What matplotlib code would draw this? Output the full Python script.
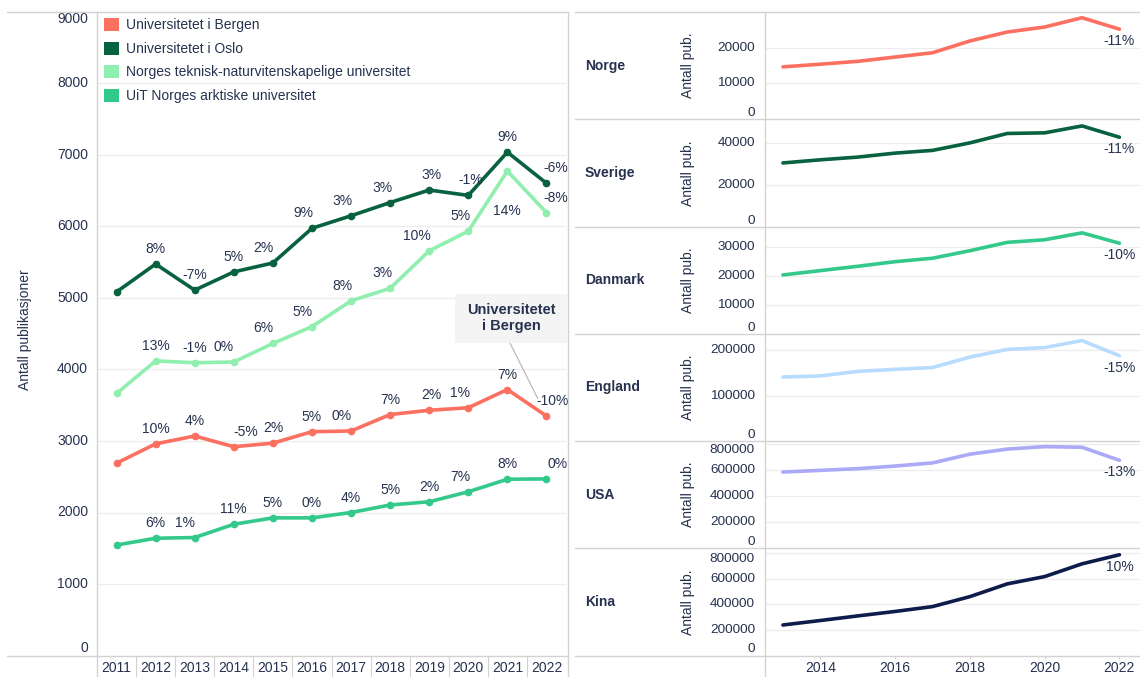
import matplotlib.pyplot as plt
from matplotlib.lines import Line2D
from matplotlib.patches import Patch, Rectangle

plt.rcParams['font.family'] = ['Liberation Sans', 'DejaVu Sans']

W, H = 1140, 677
TXT = '#26324f'
GRID = '#ededed'
RULE = '#d2d2d2'


def fx(px):
    return px / W


def fy(py):
    return 1 - py / H


# ---- left chart: universities ----
years = list(range(2011, 2023))
uib = [2690, 2960, 3070, 2920, 2970, 3130, 3140, 3370, 3430, 3465, 3720, 3350]
uio = [5085, 5475, 5110, 5365, 5490, 5975, 6150, 6335, 6510, 6435, 7040, 6605]
ntnu = [3665, 4120, 4095, 4105, 4365, 4600, 4960, 5135, 5660, 5935, 6775, 6195]
uit = [1545, 1640, 1650, 1835, 1925, 1925, 2000, 2105, 2150, 2290, 2465, 2470]

uib_pct = ['', '10%', '4%', '-5%', '2%', '5%', '0%', '7%', '2%', '1%', '7%', '-10%']
uio_pct = ['', '8%', '-7%', '5%', '2%', '9%', '3%', '3%', '3%', '-1%', '9%', '-6%']
ntnu_pct = ['', '13%', '-1%', '0%', '6%', '5%', '8%', '3%', '10%', '5%', '14%', '-8%']
uit_pct = ['', '6%', '1%', '11%', '5%', '0%', '4%', '5%', '2%', '7%', '8%', '0%']

names = ['Universitetet i Bergen', 'Universitetet i Oslo',
         'Norges teknisk-naturvitenskapelige universitet', 'UiT Norges arktiske universitet']
colors = ['#fb7060', '#08623f', '#90eeae', '#33c98a']

# label nudges in pixels (dx, dy)
uib_nudge = [(0, 15)] * 3 + [(12, 15), (0, 15), (0, 15), (-9, 15), (0, 15), (2, 15), (-8, 15), (0, 15), (6, 15)]
uio_nudge = [(0, 15)] * 4 + [(-10, 15), (-9, 15), (-9, 15), (-8, 15), (2, 15), (2, 15), (0, 15), (9, 15)]
ntnu_nudge = [(0, 15)] * 3 + [(-10, 15), (-10, 15), (-9, 15), (-9, 15), (-8, 15), (-12, 15), (-8, 15), (0, -40), (9, 15)]
uit_nudge = [(0, 15)] * 2 + [(-10, 15)] + [(0, 15)] * 6 + [(-8, 15), (0, 15), (11, 15)]

fig = plt.figure(figsize=(W / 100, H / 100), dpi=100)

ax = fig.add_axes([fx(97), fy(655.5), (566 - 97) / W, (655.5 - 12) / H])
ax.set_xlim(-0.5, 11.5)
ax.set_ylim(0, 9000)
for s in ax.spines.values():
    s.set_visible(False)

for v in range(1000, 9001, 1000):
    ax.axhline(v, color=GRID, lw=0.9, zorder=0)
ax.set_yticks([])
for v in range(0, 9001, 1000):
    va = 'center'
    if v == 9000:
        va = 'top'
    elif v == 0:
        va = 'bottom'
    ax.text(-9 / 469, v, str(v), transform=ax.get_yaxis_transform(),
            ha='right', va=va, fontsize=10, color=TXT)

series = [(uib, uib_pct, uib_nudge), (uio, uio_pct, uio_nudge),
          (ntnu, ntnu_pct, ntnu_nudge), (uit, uit_pct, uit_nudge)]
xs = list(range(len(years)))
for (vals, pcts, nudge), col in zip(series, colors):
    ax.plot(xs, vals, color=col, lw=2.6, marker='o', ms=4.5,
            solid_capstyle='round', zorder=3)
    for i, (v, p) in enumerate(zip(vals, pcts)):
        if p:
            ax.annotate(p, (i, v), xytext=nudge[i], textcoords='offset pixels',
                        ha='center', va='center', fontsize=10, color=TXT, zorder=4)

ax.set_xticks(xs, labels=[str(y) for y in years])
ax.set_xticks([i + 0.5 for i in range(len(years) - 1)], minor=True)
ax.tick_params(axis='x', which='major', length=0, pad=4, labelsize=10, labelcolor=TXT)
ax.tick_params(axis='x', which='minor', length=16, width=0.8, color=RULE, direction='out')

handles = [Patch(facecolor=c, edgecolor='none', label=n) for n, c in zip(names, colors)]
ax.legend(handles=handles, loc='upper left', bbox_to_anchor=(fx(104), fy(18)),
          bbox_transform=fig.transFigure, frameon=False, fontsize=10,
          handlelength=1.05, handleheight=1.05, handletextpad=0.55,
          labelspacing=0.68, borderaxespad=0, borderpad=0, labelcolor=TXT)

fig.text(fx(25), fy(330), 'Antall publikasjoner', rotation=90,
         ha='center', va='center', fontsize=10, color=TXT)

# callout box for Bergen
fig.add_artist(Rectangle((fx(455), fy(343)), (567 - 455) / W, (343 - 294) / H,
                         transform=fig.transFigure, facecolor='#f4f4f4',
                         edgecolor='none', zorder=5))
fig.text(fx(511), fy(318), 'Universitetet\ni Bergen', ha='center', va='center',
         fontsize=10.5, fontweight='bold', color=TXT, linespacing=1.15, zorder=6)
ax.annotate('', xy=(11, uib[11]), xytext=(fx(510), fy(343)),
            textcoords='figure fraction',
            arrowprops=dict(arrowstyle='-', color='#b5b5b5', lw=0.8,
                            shrinkA=0, shrinkB=14))

for x0, y0, x1, y1 in [(7, 12, 568, 12), (7, 655.5, 568, 655.5),
                       (97, 12, 97, 677), (568, 12, 568, 677)]:
    fig.add_artist(Line2D([fx(x0), fx(x1)], [fy(y0), fy(y1)], color=RULE, lw=1.0))

# ---- right panels: countries ----
country_years = list(range(2013, 2023))
countries = ['Norge', 'Sverige', 'Danmark', 'England', 'USA', 'Kina']
norge = [14650, 15400, 16200, 17400, 18600, 21900, 24400, 25800, 28400, 25200]
sverige = [30400, 31900, 33200, 35100, 36400, 40000, 44500, 44800, 48100, 42700]
danmark = [20400, 21900, 23400, 25000, 26200, 28800, 31700, 32600, 35000, 31400]
england = [141000, 143500, 153500, 158000, 162000, 185000, 202000, 206000, 221500, 188000]
usa = [584000, 597000, 610000, 630000, 654000, 721000, 760000, 779000, 774000, 674000]
kina = [239000, 274000, 310000, 345000, 383000, 461000, 561000, 618000, 718000, 789000]
country_change = ['-11%', '-11%', '-10%', '-15%', '-13%', '10%']
country_colors = ['#fb7060', '#08623f', '#33c98a', '#b8dcfd', '#aaaaf6', '#0e1c4c']
country_ticks = [[0, 10000, 20000], [0, 20000, 40000], [0, 10000, 20000, 30000],
                 [0, 100000, 200000], [0, 200000, 400000, 600000, 800000],
                 [0, 200000, 400000, 600000, 800000]]
country_ymax = [30000, 51300, 37200, 236500, 822000, 840000]
country_vals = [norge, sverige, danmark, england, usa, kina]

row_h = (655.5 - 12) / 6
px_left, px_right = 765, 1140
for r, (name, vals, col, ticks, ymax, pct) in enumerate(
        zip(countries, country_vals, country_colors, country_ticks, country_ymax, country_change)):
    top = 12 + r * row_h
    bot = top + row_h
    cy = (top + bot) / 2
    axr = fig.add_axes([fx(px_left), fy(bot), (px_right - px_left) / W, row_h / H])
    axr.set_xlim(2012.52, 2022.55)
    axr.set_ylim(0, ymax)
    for s in axr.spines.values():
        s.set_visible(False)
    axr.set_yticks([])
    for t in ticks:
        if t > 0:
            axr.axhline(t, color=GRID, lw=0.9, zorder=0)
        dist_top = (ymax - t) / ymax * row_h
        va = 'center'
        if t == 0:
            va = 'bottom'
        elif dist_top < 6:
            va = 'top'
        axr.text(-10 / (px_right - px_left), t, str(t), transform=axr.get_yaxis_transform(),
                 ha='right', va=va, fontsize=9.7, color=TXT)
    axr.plot(country_years, vals, color=col, lw=2.6, solid_capstyle='round', zorder=3)
    axr.annotate(pct, (country_years[-1], vals[-1]), xytext=(0, -12),
                 textcoords='offset pixels', ha='center', va='center',
                 fontsize=10, color=TXT, zorder=4)
    if r == len(countries) - 1:
        axr.set_xticks([2014, 2016, 2018, 2020, 2022])
        axr.tick_params(axis='x', length=2, width=0.8, color=RULE, pad=2,
                        labelsize=10, labelcolor=TXT)
    else:
        axr.set_xticks([])
    fig.text(fx(585), fy(cy), name, ha='left', va='center', fontsize=10,
             fontweight='bold', color=TXT)
    fig.text(fx(688), fy(cy), 'Antall pub.', rotation=90, ha='center', va='center',
             fontsize=10, color=TXT)

for k in range(7):
    yy = 12 + k * row_h
    fig.add_artist(Line2D([fx(575), fx(1140)], [fy(yy), fy(yy)], color=RULE, lw=1.0))
fig.add_artist(Line2D([fx(765), fx(765)], [fy(12), fy(677)], color=RULE, lw=1.0))

fig.savefig('out.png', dpi=100)
